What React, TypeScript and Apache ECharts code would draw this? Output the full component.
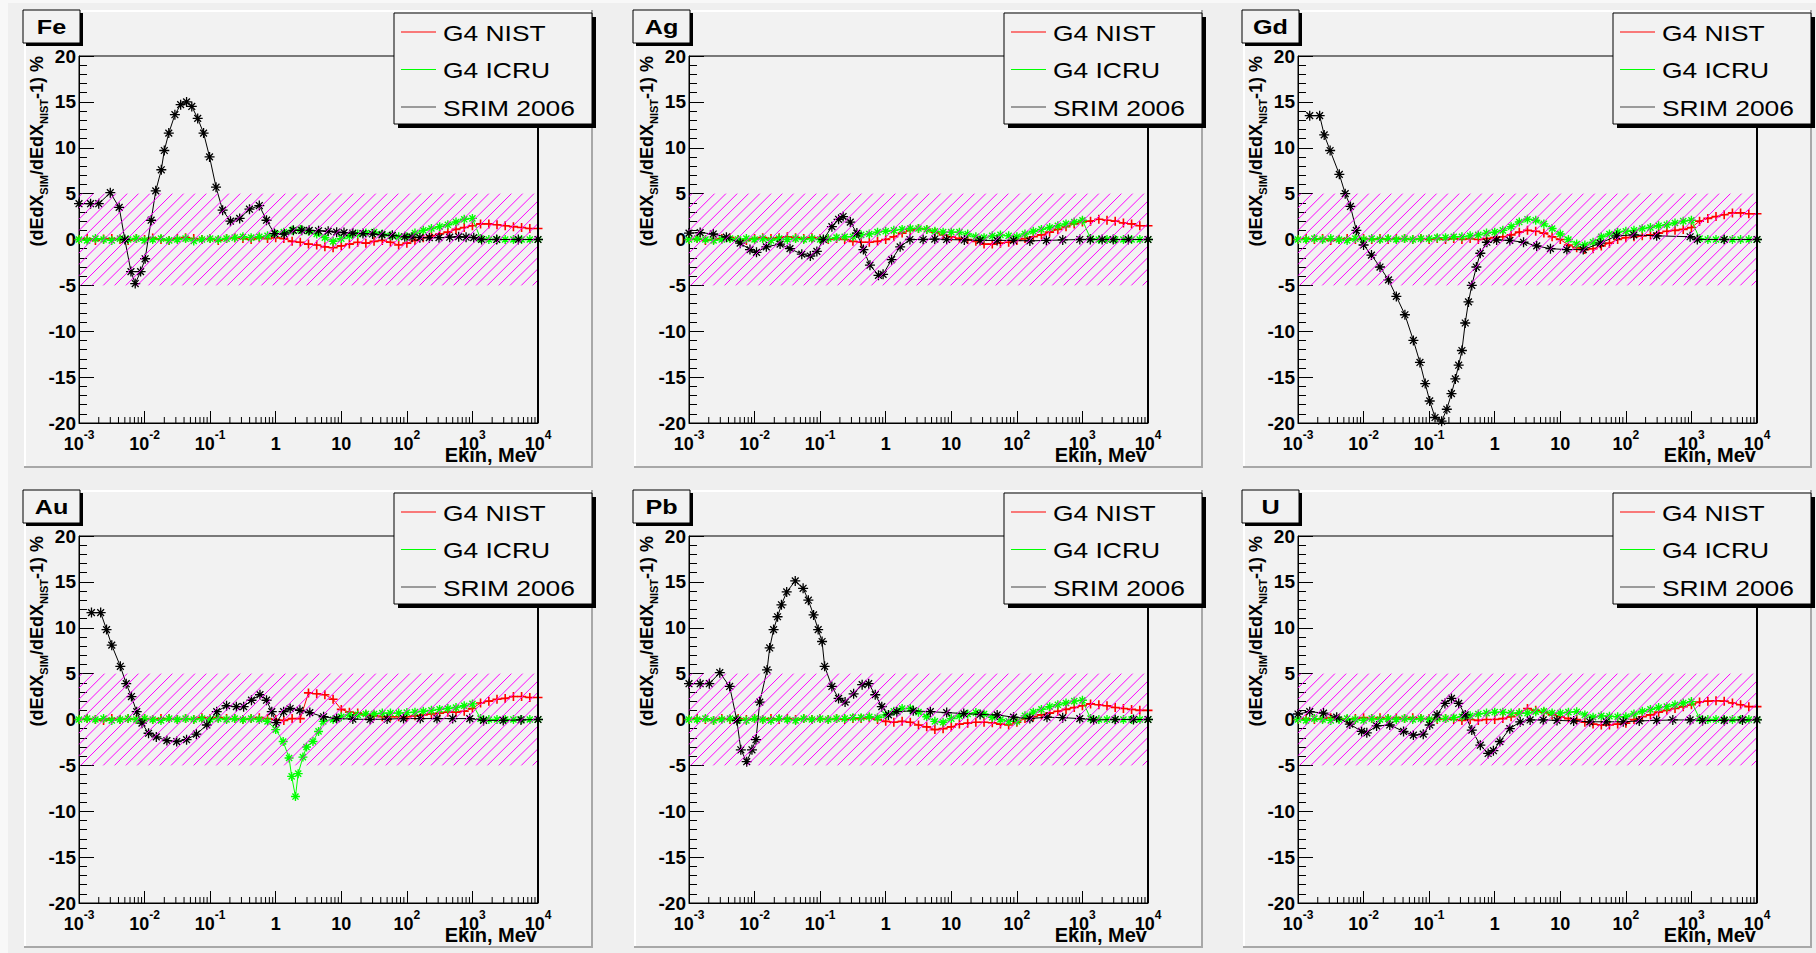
import React, { useEffect, useRef } from 'react';
import * as echarts from 'echarts';

const W = 1816;
const H = 953;
const FONT = "'Liberation Sans', Arial, Helvetica, sans-serif";

// ---------- axes ----------
const X_MIN = 1e-3;
const X_MAX = 1e4;
const Y_MIN = -20;
const Y_MAX = 20;
const Y_STEP = 5;
const X_TICK_EXPONENTS = [-3, -2, -1, 0, 1, 2, 3, 4];
const X_TICK_LABELS = ['{b|10}{s|-3}', '{b|10}{s|-2}', '{b|10}{s|-1}', '{b|1}', '{b|10}', '{b|10}{s|2}', '{b|10}{s|3}', '{b|10}{s|4}'];
const X_MINOR_MULTIPLIERS = [2, 3, 4, 5, 6, 7, 8, 9];
const BAND_Y = [-5, 5];
const X_TITLE = 'Ekin, Mev';
const LEGEND_LABELS = ['G4 NIST', 'G4 ICRU', 'SRIM 2006'];
const PANEL_NAMES = ['Fe', 'Ag', 'Gd', 'Au', 'Pb', 'U'];

// ---------- G4 energy grid (MeV) ----------
const E_G4 = [
  0.001, 0.00133, 0.00178, 0.00237, 0.00316, 0.00422, 0.00562, 0.0075,
  0.01, 0.0133, 0.0178, 0.0237, 0.0316, 0.0422, 0.0562, 0.075,
  0.1, 0.133, 0.178, 0.237, 0.316, 0.422, 0.562, 0.75,
  1, 1.33, 1.78, 2.37, 3.16, 4.22, 5.62, 7.5,
  10, 13.3, 17.8, 23.7, 31.6, 42.2, 56.2, 75,
  100, 133, 178, 237, 316, 422, 562, 750,
  1000, 1330, 1780, 2370, 3160, 4220, 5620, 7500,
  10000,
];

const AU_ICRU_E = [
  0.001, 0.00133, 0.00178, 0.00237, 0.00316, 0.00422, 0.00562, 0.0075,
  0.01, 0.0133, 0.0178, 0.0237, 0.0316, 0.0422, 0.0562, 0.075,
  0.1, 0.133, 0.178, 0.237, 0.316, 0.422, 0.562, 0.75,
  1.0, 1.3, 1.6, 1.75, 2.0, 2.2, 2.6, 2.95, 3.7, 4.5, 5.3, 7.5,
  10, 13.3, 17.8, 23.7, 31.6, 42.2, 56.2, 75,
  100, 133, 178, 237, 316, 422, 562, 750,
  1000, 1330, 1780, 2370, 3160, 4220, 5620, 7500,
  10000,
];

// ---------- Fe ----------
const FE_NIST = [
  0, 0.1, -0.1, 0.05, 0.1, 0, -0.1, 0.1,
  0, 0.15, 0, -0.1, 0.1, 0.2, 0.1, 0,
  0.1, -0.1, 0.1, 0.2, 0.1, 0, 0.2, 0.1,
  0.2, 0.1, -0.2, -0.3, -0.5, -0.6, -0.8, -0.9,
  -0.7, -0.5, -0.3, -0.4, -0.2, -0.1, -0.3, -0.6,
  -0.4, -0.1, 0.2, 0.4, 0.6, 0.8, 1.1, 1.3,
  1.5, 1.7, 1.7, 1.6, 1.5, 1.4, 1.3, 1.2,
  1.2,
];
const FE_ICRU = [
  0, -0.1, 0.1, 0, -0.1, 0.1, 0, 0.1,
  -0.1, 0, 0.1, -0.1, 0, 0.1, -0.15, 0,
  0.1, 0, 0.1, 0.2, 0.3, 0.2, 0.3, 0.4,
  0.6, 0.8, 1.0, 1.1, 0.9, 0.6, 0.2, -0.2,
  0.1, 0.4, 0.6, 0.7, 0.8, 0.6, 0.4, 0.3,
  0.3, 0.7, 1.0, 1.2, 1.4, 1.6, 1.9, 2.2,
  2.3, 0.1, 0, 0, 0, 0, 0, 0,
  0,
];
const FE_SRIM: number[][] = [
  [0.001, 3.9], [0.0015, 3.9], [0.002, 3.9], [0.003, 5.1], [0.0041, 3.5], [0.005, 0], [0.0062, -3.5],
  [0.0072, -4.8], [0.0087, -3.5], [0.0102, -2.1], [0.0126, 2.1], [0.0148, 5.3], [0.018, 7.6], [0.02, 9.7],
  [0.0234, 11.6], [0.029, 13.6], [0.0355, 14.7], [0.0437, 15.0], [0.0525, 14.5], [0.0646, 13.2],
  [0.0794, 11.6], [0.098, 9.0], [0.123, 5.7], [0.155, 3.2], [0.204, 2.0], [0.282, 2.3], [0.398, 3.3],
  [0.562, 3.7], [0.724, 2.1], [0.955, 0.65], [1.35, 0.6], [1.86, 1.0], [2.5, 1.0], [3.24, 1.0], [4.5, 0.95],
  [6.31, 0.9], [8.5, 0.8], [11, 0.75], [15, 0.7], [21.4, 0.65], [30, 0.6], [41.7, 0.5], [60, 0.45],
  [93, 0.3], [120, 0.25], [158, 0.2], [220, 0.2], [309, 0.2], [450, 0.25], [617, 0.3], [800, 0.25],
  [1047, 0.2], [1380, 0], [2344, 0], [5012, 0], [10000, 0],
];

// ---------- Ag ----------
const AG_NIST = [
  0, 0.1, -0.1, 0, 0.1, 0.2, 0, -0.1,
  0.1, 0.2, 0.1, 0.2, 0.3, 0.2, 0.1, 0.2,
  0.1, 0, 0.1, 0, -0.2, -0.3, -0.3, -0.2,
  0, 0.3, 0.7, 1.0, 1.2, 1.1, 0.8, 0.5,
  0.3, 0.1, 0, -0.2, -0.5, -0.5, -0.4, -0.3,
  -0.1, 0.1, 0.3, 0.5, 0.8, 1.1, 1.4, 1.7,
  1.9, 2.0, 2.2, 2.1, 2.0, 1.8, 1.7, 1.5,
  1.5,
];
const AG_ICRU = [
  0, 0.1, 0, -0.1, 0, 0.1, 0, 0.1,
  0, 0.1, -0.1, 0.1, 0, 0.1, 0, 0.1,
  0, 0.1, 0.2, 0.3, 0.3, 0.5, 0.6, 0.8,
  0.9, 1.0, 1.1, 1.2, 1.2, 1.1, 0.9, 0.8,
  0.8, 0.8, 0.6, 0.3, 0.2, 0.4, 0.5, 0.4,
  0.3, 0.6, 0.9, 1.1, 1.3, 1.5, 1.7, 1.9,
  2.1, 0.1, 0, 0, 0, 0, 0, 0,
  0,
];
const AG_SRIM: number[][] = [
  [0.001, 0.7], [0.00148, 0.75], [0.00234, 0.6], [0.00372, 0.25], [0.00603, -0.4], [0.00851, -1.1],
  [0.0107, -1.4], [0.0151, -0.8], [0.0245, -0.5], [0.0347, -1.0], [0.0525, -1.6], [0.0708, -1.8],
  [0.0891, -1.3], [0.112, 0], [0.151, 1.4], [0.191, 2.2], [0.224, 2.5], [0.288, 1.9], [0.363, 0.7],
  [0.457, -1.1], [0.575, -2.8], [0.776, -3.9], [0.912, -3.8], [1.23, -2.2], [1.66, -0.8], [2.34, 0],
  [3.72, 0], [5.6, 0.05], [8.5, 0], [15.8, -0.05], [27.5, -0.1], [50, -0.1], [89, -0.1], [158, -0.15],
  [282, -0.1], [501, -0.05], [912, 0], [1318, 0], [2000, 0], [2951, 0], [5012, 0], [10000, 0],
];

// ---------- Gd ----------
const GD_NIST = [
  0, 0.1, 0, 0.1, -0.1, 0, 0.1, 0,
  0.1, 0, 0.1, 0, 0.1, 0.1, 0, 0.1,
  0, 0.1, 0, 0.1, 0, 0.1, 0, 0.1,
  0.2, 0.3, 0.5, 0.8, 1.0, 0.9, 0.7, 0.3,
  0, -0.6, -0.9, -1.1, -1.0, -0.7, -0.4, 0,
  0.2, 0.3, 0.4, 0.5, 0.7, 0.9, 1.0, 1.1,
  1.3, 2.0, 2.3, 2.5, 2.7, 2.9, 2.9, 2.8,
  2.8,
];
const GD_ICRU = [
  0, 0, 0.1, 0, 0.1, 0, -0.1, 0.1,
  0, 0.1, 0, 0.1, 0, 0.1, 0, 0.1,
  0.1, 0.2, 0.2, 0.3, 0.3, 0.4, 0.5, 0.7,
  0.8, 1.0, 1.4, 1.9, 2.2, 2.1, 1.7, 1.2,
  0.6, 0, -0.5, -0.6, -0.3, 0.3, 0.6, 0.8,
  0.9, 1.0, 1.2, 1.3, 1.5, 1.6, 1.8, 2.0,
  2.1, 0.1, 0, 0, 0, 0, 0, 0,
  0,
];
const GD_SRIM: number[][] = [
  [0.00151, 13.5], [0.00214, 13.5], [0.00251, 11.4], [0.00309, 9.7], [0.00427, 7.1], [0.00525, 5.0],
  [0.00631, 3.6], [0.00776, 1.0], [0.01, -0.6], [0.0132, -1.7], [0.0178, -3.0], [0.024, -4.4],
  [0.0316, -6.2], [0.0427, -8.2], [0.0575, -11.0], [0.0724, -13.4], [0.0871, -15.7], [0.102, -17.6],
  [0.123, -19.4], [0.155, -19.8], [0.186, -18.5], [0.219, -16.8], [0.251, -15.2], [0.282, -13.7],
  [0.316, -12.1], [0.355, -9.1], [0.398, -6.8], [0.447, -5.0], [0.525, -3.0], [0.603, -1.5],
  [0.759, -0.3], [1.07, -0.05], [1.7, -0.1], [2.75, -0.3], [4.37, -0.7], [7.08, -1.0], [12.6, -1.1],
  [22.4, -1.1], [40.7, -0.4], [72.4, 0.4], [132, 0.5], [295, 0.4], [955, 0.3], [1230, 0], [3162, 0],
  [10000, 0],
];

// ---------- Au ----------
const AU_NIST = [
  0, 0.1, 0, -0.1, 0.1, 0, 0.1, 0,
  0.1, 0, 0.1, 0.1, 0, 0.1, 0, 0.2,
  0.1, 0.2, 0.1, 0.1, 0, 0.1, 0.2, 0.1,
  0, -0.1, 0.1, 0.1, 2.9, 2.8, 2.7, 2.2,
  1.1, 0.8, 0.7, 0.5, 0.4, 0.3, 0.3, 0.3,
  0.3, 0.4, 0.5, 0.6, 0.7, 0.8, 0.8, 0.9,
  1.2, 1.8, 2.0, 2.2, 2.3, 2.5, 2.5, 2.4,
  2.4,
];
const AU_ICRU = [
  0, 0.1, 0, 0.1, -0.1, 0, 0.1, 0,
  0.1, 0, -0.1, 0.1, 0, 0.1, 0, 0.1,
  0, 0.1, 0, 0.1, 0, 0.1, 0, -0.2,
  -1.1, -2.4, -4.2, -6.2, -8.4, -5.9, -4.1, -3.0, -2.4, -1.3, -0.2, 0,
  0.3, 0.5, 0.5, 0.6, 0.6, 0.7, 0.7, 0.7,
  0.75, 0.8, 0.9, 1.0, 1.1, 1.2, 1.3, 1.5,
  1.7, 0.1, 0, 0, 0, 0, 0, 0,
  0,
];
const AU_SRIM: number[][] = [
  [0.00155, 11.65], [0.00214, 11.65], [0.00263, 9.8], [0.00316, 8.1], [0.00427, 5.8], [0.00525, 3.9],
  [0.00631, 2.5], [0.00759, 0.85], [0.00912, -0.4], [0.0115, -1.5], [0.0151, -1.9], [0.0219, -2.3],
  [0.0309, -2.4], [0.0437, -2.2], [0.0617, -1.6], [0.0891, -0.6], [0.126, 0.85], [0.178, 1.5],
  [0.251, 1.4], [0.324, 1.4], [0.427, 2.1], [0.575, 2.7], [0.724, 2.1], [0.871, 0.85], [1.02, -0.35],
  [1.32, 0.85], [1.66, 1.2], [2.34, 1.0], [3.31, 0.75], [5.37, 0.3], [8.51, 0.1], [15, 0.05],
  [27.5, 0], [50, 0.05], [89, 0.1], [160, 0.1], [288, 0.1], [500, 0.1], [912, 0.1], [1479, -0.1],
  [2951, -0.1], [5500, -0.05], [10000, 0],
];

// ---------- Pb ----------
const PB_NIST = [
  0, 0.1, 0, -0.1, 0.1, 0, 0.1, 0,
  0.1, 0, 0.1, 0, 0.1, 0, 0.1, 0,
  0.1, 0, 0.1, 0, 0.1, 0.1, 0.2, 0,
  -0.2, -0.3, -0.2, -0.3, -0.6, -0.8, -1.1, -1.0,
  -0.8, -0.5, -0.4, -0.3, -0.3, -0.35, -0.5, -0.6,
  -0.3, 0.1, 0.3, 0.5, 0.7, 0.9, 1.1, 1.3,
  1.5, 1.7, 1.6, 1.5, 1.3, 1.2, 1.1, 1.0,
  1.0,
];
const PB_ICRU = [
  0, 0, 0.1, -0.1, 0, 0.1, 0, -0.1,
  0.1, 0, -0.1, 0.1, 0, -0.1, 0.1, 0,
  0.1, 0, 0.1, 0.1, 0.2, 0.2, 0.3, 0.2,
  0.5, 0.9, 1.2, 1.2, 0.8, 0.3, -0.2, -0.3,
  0.1, 0.4, 0.6, 0.75, 0.6, 0.25, 0, -0.2,
  -0.2, 0.4, 0.8, 1.1, 1.4, 1.6, 1.8, 2.0,
  2.1, 0.1, 0, 0, 0, 0, 0, 0,
  0,
];
const PB_SRIM: number[][] = [
  [0.001, 3.9], [0.00148, 3.9], [0.00204, 3.9], [0.00295, 5.1], [0.00417, 3.6], [0.00537, -0.1],
  [0.00617, -3.3], [0.00759, -4.6], [0.00912, -3.3], [0.0105, -2.2], [0.012, 1.9], [0.0155, 5.4],
  [0.017, 7.8], [0.0195, 9.8], [0.0224, 11.2], [0.0257, 12.5], [0.0309, 13.9], [0.0417, 15.1],
  [0.055, 14.3], [0.0661, 13.0], [0.0794, 11.4], [0.0933, 9.8], [0.107, 8.5], [0.117, 5.8],
  [0.151, 3.6], [0.191, 2.3], [0.24, 1.9], [0.324, 2.8], [0.437, 3.8], [0.55, 3.9], [0.692, 2.7],
  [0.871, 1.4], [1.1, 0.5], [1.48, 0.85], [2.63, 0.95], [4.79, 0.85], [8.51, 0.75], [15.5, 0.65],
  [27.5, 0.55], [50.1, 0.5], [89, 0.25], [158, 0.1], [288, 0.25], [500, 0.2], [912, 0.1],
  [1479, -0.05], [3162, 0], [6000, 0], [10000, 0],
];

// ---------- U ----------
const U_NIST = [
  0, 0.1, 0, 0.1, 0.2, 0.1, 0, 0.1,
  0.2, 0.1, 0.2, 0.1, 0.2, 0.1, 0.2, 0.1,
  0.1, 0, 0.1, 0, -0.1, 0, -0.1, 0,
  0, 0.1, 0.3, 0.7, 1.2, 1.0, 0.8, 0.5,
  0.3, 0.1, 0, -0.3, -0.5, -0.6, -0.6, -0.5,
  -0.4, 0, 0.3, 0.5, 0.8, 1.0, 1.2, 1.4,
  1.6, 1.9, 2.0, 2.05, 2.0, 1.8, 1.6, 1.4,
  1.4,
];
const U_ICRU = [
  0, -0.1, 0.1, 0, -0.1, 0, 0.1, 0,
  -0.1, 0.1, 0, 0.1, 0, 0.1, 0, 0.1,
  0, 0.1, 0.1, 0.2, 0.3, 0.4, 0.6, 0.7,
  0.8, 0.8, 0.7, 0.7, 0.7, 0.85, 0.9, 0.7,
  0.7, 0.8, 0.85, 0.5, 0.25, 0.4, 0.35, 0.3,
  0.3, 0.6, 0.9, 1.1, 1.3, 1.4, 1.6, 1.8,
  1.95, 0.1, 0, 0, 0, 0, 0, 0,
  0,
];
const U_SRIM: number[][] = [
  [0.001, 0.6], [0.00151, 0.85], [0.00245, 0.7], [0.00389, 0.25], [0.00617, -0.5], [0.00933, -1.3],
  [0.0112, -1.45], [0.0158, -0.7], [0.0251, -0.6], [0.0407, -1.3], [0.0575, -1.7], [0.0813, -1.6],
  [0.102, -0.6], [0.132, 0.5], [0.174, 1.75], [0.219, 2.3], [0.282, 1.75], [0.355, 0.5], [0.447, -1.15],
  [0.603, -2.8], [0.794, -3.7], [0.955, -3.4], [1.2, -2.4], [1.7, -1.0], [2.45, -0.25], [3.47, -0.05],
  [5.5, -0.05], [8.91, -0.1], [16, -0.15], [28.2, -0.25], [50, -0.25], [91.2, -0.25], [160, -0.15],
  [295, -0.1], [520, -0.05], [955, -0.05], [1479, -0.1], [3162, -0.1], [6000, -0.05], [10000, -0.05],
];

const PANELS = [
  { name: PANEL_NAMES[0], nistE: E_G4, nist: FE_NIST, icruE: E_G4, icru: FE_ICRU, srim: FE_SRIM },
  { name: PANEL_NAMES[1], nistE: E_G4, nist: AG_NIST, icruE: E_G4, icru: AG_ICRU, srim: AG_SRIM },
  { name: PANEL_NAMES[2], nistE: E_G4, nist: GD_NIST, icruE: E_G4, icru: GD_ICRU, srim: GD_SRIM },
  { name: PANEL_NAMES[3], nistE: E_G4, nist: AU_NIST, icruE: AU_ICRU_E, icru: AU_ICRU, srim: AU_SRIM },
  { name: PANEL_NAMES[4], nistE: E_G4, nist: PB_NIST, icruE: E_G4, icru: PB_ICRU, srim: PB_SRIM },
  { name: PANEL_NAMES[5], nistE: E_G4, nist: U_NIST, icruE: E_G4, icru: U_ICRU, srim: U_SRIM },
];

// ---------- layout / style ----------
const PLOT_LEFT = [79, 689, 1298];
const PLOT_TOP = [56, 536];
const PLOT_W = 459;
const PLOT_H = 367;
const C_NIST = '#ff0000';
const C_ICRU = '#00ff00';
const C_SRIM = '#000000';
const C_LEG_SRIM = '#444444';
const HATCH = '#ff00ff';
const HATCH_STEP = 11.3;
const PANEL_BG = '#f2f2f2';
const STAR = 'path://M5 0L5 10M0 5L10 5M1.6 1.6L8.4 8.4M8.4 1.6L1.6 8.4';
const PLUS = 'path://M5 0L5 10M0 5L10 5';

const X_MINOR_TICKS: number[] = [];
X_TICK_EXPONENTS.slice(0, -1).forEach((e) => {
  X_MINOR_MULTIPLIERS.forEach((m) => X_MINOR_TICKS.push(m * Math.pow(10, e)));
});

function pairs(e: number[], v: number[]) {
  return e.map((x, i) => [x, v[i]]);
}

function xLabel(v: number) {
  const ex = Math.round(Math.log10(v));
  const i = X_TICK_EXPONENTS.indexOf(ex);
  return i >= 0 ? X_TICK_LABELS[i] : '';
}

function lineSeries(k: number, data: number[][], color: string, symbol: string, size: number, bw: number, z: number) {
  return {
    type: 'line',
    xAxisIndex: k,
    yAxisIndex: k,
    data,
    symbol,
    symbolSize: size,
    showSymbol: true,
    showAllSymbol: true,
    silent: true,
    z,
    itemStyle: { color, borderColor: color, borderWidth: bw },
    lineStyle: { color, width: 1 },
    emphasis: { disabled: true },
  };
}

function buildOption() {
  const grid: any[] = [];
  const xAxis: any[] = [];
  const yAxis: any[] = [];
  const series: any[] = [];
  const graphic: any[] = [];

  graphic.push({ type: 'rect', z: -3, silent: true, shape: { x: 8, y: 3, width: W - 8, height: H - 3 }, style: { fill: '#efefef' } });

  PANELS.forEach((p, k) => {
    const col = k % 3;
    const row = Math.floor(k / 3);
    const L = PLOT_LEFT[col];
    const T = PLOT_TOP[row];

    grid.push({
      left: L, top: T, width: PLOT_W, height: PLOT_H,
      show: true, borderColor: '#000', borderWidth: 1, backgroundColor: 'transparent',
      containLabel: false, outerBoundsMode: 'none',
    });
    xAxis.push({
      type: 'log', logBase: 10, gridIndex: k, min: X_MIN, max: X_MAX, splitNumber: 7,
      axisLine: { show: true, onZero: false, lineStyle: { color: '#000', width: 1 } },
      axisTick: { show: true, inside: true, length: 12, lineStyle: { color: '#000', width: 1 } },
      minorTick: { show: false },
      splitLine: { show: false },
      axisLabel: {
        show: true, margin: 6, formatter: xLabel,
        rich: {
          b: { fontSize: 18, fontWeight: 'bold', fontFamily: FONT, color: '#000', lineHeight: 24, verticalAlign: 'bottom' },
          s: { fontSize: 12, fontWeight: 'bold', fontFamily: FONT, color: '#000', lineHeight: 10, verticalAlign: 'top' },
        },
      },
    });
    yAxis.push({
      type: 'value', gridIndex: k, min: Y_MIN, max: Y_MAX, interval: Y_STEP,
      axisLine: { show: true, onZero: false, lineStyle: { color: '#000', width: 1 } },
      axisTick: { show: true, inside: true, length: 15, lineStyle: { color: '#000', width: 1 } },
      minorTick: { show: true, splitNumber: 5, length: 8, lineStyle: { color: '#000', width: 1 } },
      splitLine: { show: false },
      minorSplitLine: { show: false },
      axisLabel: { margin: 3, fontSize: 19, fontWeight: 'bold', fontFamily: FONT, color: '#000' },
    });

    series.push(lineSeries(k, pairs(p.nistE, p.nist), C_NIST, PLUS, 9, 1.6, 3));
    series.push(lineSeries(k, pairs(p.icruE, p.icru), C_ICRU, STAR, 9, 1.4, 4));
    series.push(lineSeries(k, p.srim, C_SRIM, STAR, 10, 1.3, 5));

    // hatched +-5% band
    series.push({
      type: 'custom', xAxisIndex: k, yAxisIndex: k, z: 6, silent: true,
      data: [[X_MIN, BAND_Y[0]]],
      renderItem: (_params: any, api: any) => {
        const a = api.coord([X_MIN, BAND_Y[1]]);
        const b = api.coord([X_MAX, BAND_Y[0]]);
        const x0 = a[0], y0 = a[1], x1 = b[0], y1 = b[1];
        const children: any[] = [];
        for (let c = x0 + y0 + 3; c < x1 + y1; c += HATCH_STEP) {
          const xs = Math.max(x0, c - y1);
          const xe = Math.min(x1, c - y0);
          if (xe <= xs) continue;
          children.push({ type: 'line', shape: { x1: xs, y1: c - xs, x2: xe, y2: c - xe }, style: { stroke: HATCH, lineWidth: 1 } });
        }
        return { type: 'group', children };
      },
    });

    // log minor ticks on x axis
    series.push({
      type: 'custom', xAxisIndex: k, yAxisIndex: k, z: 7, silent: true,
      data: X_MINOR_TICKS.map((e) => [e, Y_MIN]),
      renderItem: (_params: any, api: any) => {
        const pt = api.coord([api.value(0), api.value(1)]);
        return { type: 'line', shape: { x1: pt[0], y1: pt[1], x2: pt[0], y2: pt[1] - 6 }, style: { stroke: '#000', lineWidth: 1 } };
      },
    });

    // panel (pad) background with bevel
    const px = L - 55, py = T - 46, pw = 569, ph = 458;
    graphic.push({ type: 'rect', z: -2, silent: true, shape: { x: px, y: py, width: pw, height: ph }, style: { fill: PANEL_BG } });
    graphic.push({ type: 'line', z: -1, silent: true, shape: { x1: px, y1: py + 1, x2: px + pw, y2: py + 1 }, style: { stroke: '#ffffff', lineWidth: 2 } });
    graphic.push({ type: 'line', z: -1, silent: true, shape: { x1: px + 1, y1: py, x2: px + 1, y2: py + ph }, style: { stroke: '#ffffff', lineWidth: 2 } });
    graphic.push({ type: 'line', z: -1, silent: true, shape: { x1: px, y1: py + ph - 1, x2: px + pw, y2: py + ph - 1 }, style: { stroke: '#a8a8a8', lineWidth: 2 } });
    graphic.push({ type: 'line', z: -1, silent: true, shape: { x1: px + pw - 1, y1: py, x2: px + pw - 1, y2: py + ph }, style: { stroke: '#a8a8a8', lineWidth: 2 } });

    // right frame edge (thicker)
    graphic.push({ type: 'line', z: 50, silent: true, shape: { x1: L + PLOT_W, y1: T, x2: L + PLOT_W, y2: T + PLOT_H }, style: { stroke: '#000', lineWidth: 2 } });

    // axis titles
    graphic.push({
      type: 'text', z: 60, silent: true, x: L + PLOT_W - 1, y: T + PLOT_H + 32,
      style: { text: X_TITLE, fontSize: 20, fontWeight: 'bold', fontFamily: FONT, fill: '#000', align: 'right', verticalAlign: 'middle' },
    });
    graphic.push({
      type: 'text', z: 60, silent: true, x: L - 42, y: T, rotation: Math.PI / 2,
      style: {
        text: '(dEdX{sub|SIM}/dEdX{sub|NIST}-1) %',
        fontSize: 18, fontWeight: 'bold', fontFamily: FONT, fill: '#000', lineHeight: 24,
        align: 'right', verticalAlign: 'middle',
        rich: { sub: { fontSize: 11, fontWeight: 'bold', fontFamily: FONT, fill: '#000', lineHeight: 10, verticalAlign: 'bottom' } },
      },
    });

    // title box
    const tx = L - 56, ty = T - 46;
    graphic.push({ type: 'rect', z: 100, silent: true, shape: { x: tx + 3, y: ty + 3, width: 57, height: 33 }, style: { fill: '#000' } });
    graphic.push({ type: 'rect', z: 101, silent: true, shape: { x: tx, y: ty, width: 57, height: 33 }, style: { fill: PANEL_BG, stroke: '#000', lineWidth: 1 } });
    graphic.push({
      type: 'text', z: 102, silent: true, x: tx + 28.5, y: ty + 17, scaleX: 1.2,
      style: { text: p.name, fontSize: 21, fontWeight: 'bold', fontFamily: FONT, fill: '#000', align: 'center', verticalAlign: 'middle' },
    });

    // legend box
    const lx = L + 315, ly = T - 43, lw = 198, lh = 111;
    graphic.push({ type: 'rect', z: 100, silent: true, shape: { x: lx + 4, y: ly + 4, width: lw, height: lh }, style: { fill: '#000' } });
    graphic.push({ type: 'rect', z: 101, silent: true, shape: { x: lx, y: ly, width: lw, height: lh }, style: { fill: PANEL_BG, stroke: '#000', lineWidth: 1 } });
    const legColors = [C_NIST, C_ICRU, C_LEG_SRIM];
    LEGEND_LABELS.forEach((lab, i) => {
      const yy = ly + 19 + i * 37.5;
      graphic.push({ type: 'line', z: 102, silent: true, shape: { x1: lx + 7, y1: yy, x2: lx + 42, y2: yy }, style: { stroke: legColors[i], lineWidth: 1 } });
      graphic.push({
        type: 'text', z: 102, silent: true, x: lx + 49, y: yy + 1, scaleX: 1.2,
        style: { text: lab, fontSize: 22, fontFamily: FONT, fill: '#000', align: 'left', verticalAlign: 'middle' },
      });
    });
  });

  return {
    animation: false,
    backgroundColor: '#f8f8f8',
    grid,
    xAxis,
    yAxis,
    series,
    graphic: { elements: graphic },
  };
}

export default function App() {
  const ref = useRef<HTMLDivElement>(null);
  useEffect(() => {
    if (!ref.current) return;
    const chart = echarts.init(ref.current, null, { renderer: 'svg', width: W, height: H });
    chart.setOption(buildOption() as any);
    return () => chart.dispose();
  }, []);
  return <div ref={ref} style={{ position: 'absolute', left: 0, top: 0, width: W, height: H }} />;
}
